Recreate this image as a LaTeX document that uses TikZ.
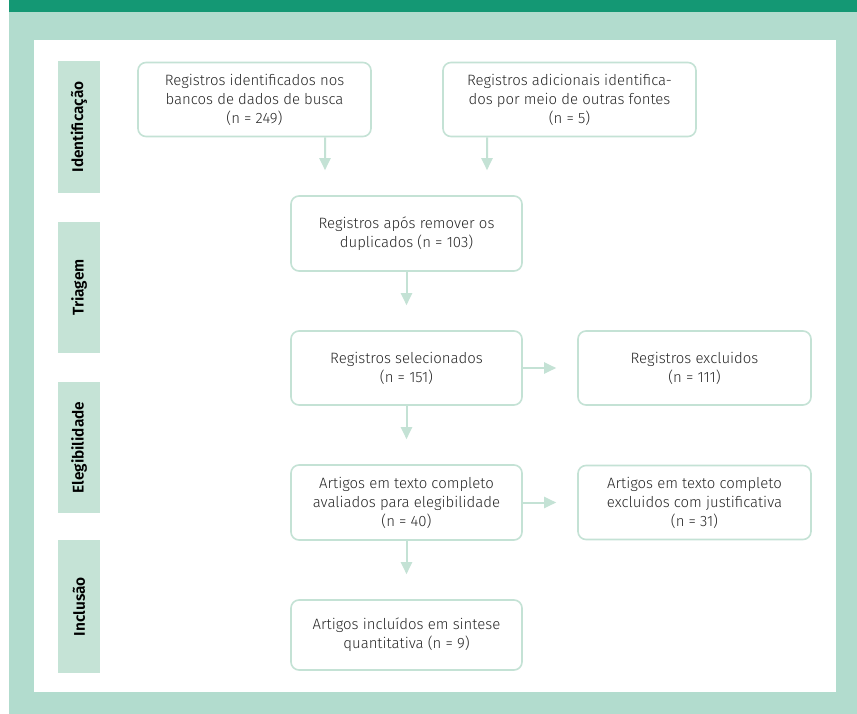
\documentclass[tikz,border=0pt]{standalone}
\usepackage{fontspec}
\setmainfont{Fira Sans}[UprightFont=* Light, BoldFont=* SemiBold]
\usetikzlibrary{arrows.meta}

\definecolor{bandgreen}{RGB}{20,152,116}
\definecolor{mintbg}{RGB}{178,220,206}
\definecolor{stagefill}{RGB}{197,227,214}
\definecolor{boxline}{RGB}{196,226,213}
\definecolor{txtgray}{RGB}{40,40,40}

\tikzset{
  flowbox/.style={draw=boxline, line width=1.6bp, rounded corners=8bp, fill=white,
    align=center, text=txtgray, inner sep=0pt,
    font=\fontsize{15}{19}\selectfont},
  stage/.style={fill=stagefill, minimum height=42bp, inner sep=0pt, rotate=90,
    font=\fontsize{15.5}{17}\selectfont\bfseries},
  flowarrow/.style={draw=boxline, line width=2bp,
    -{Triangle[width=11bp,length=12bp]}}
}

\begin{document}
\begin{tikzpicture}[x=1bp,y=-1bp]
				\fill[white] (0,0) rectangle (857,714);
				\fill[mintbg] (9,0) rectangle (857,714);
				\fill[bandgreen] (9,0) rectangle (857,12);
				\fill[white] (34,40) rectangle (836,692);
				
				\path (79,127) node[stage, minimum width=132bp] (sid) {Identificação};
				\path (79,287.5) node[stage, minimum width=131bp] (stri) {Triagem};
				\path (79,447.5) node[stage, minimum width=131bp] (sele) {Elegibilidade};
				\path (79,606.5) node[stage, minimum width=133bp] (sinc) {Inclusão};
				
				\path (254.5,99.5) node[flowbox, minimum width=233bp, minimum height=74bp] (bancos) {Registros identificados nos\\bancos de dados de busca\\(n = 249)};
				\path (569.5,99.5) node[flowbox, minimum width=253bp, minimum height=74bp] (outras) {Registros adicionais identifica-\\dos por meio de outras fontes\\(n = 5)};
				\path (406.5,233.5) node[flowbox, minimum width=231bp, minimum height=75bp] (dupl) {Registros após remover os\\duplicados (n = 103)};
				\path (406.5,368) node[flowbox, minimum width=231bp, minimum height=74bp] (selec) {Registros selecionados\\(n = 151)};
				\path (694.5,368) node[flowbox, minimum width=233bp, minimum height=74bp] (exclu) {Registros excluidos\\(n = 111)};
				\path (406.5,502.5) node[flowbox, minimum width=231bp, minimum height=75bp] (artav) {Artigos em texto completo\\avaliados para elegibilidade\\(n = 40)};
				\path (694.5,502.5) node[flowbox, minimum width=233bp, minimum height=74bp] (artex) {Artigos em texto completo\\excluidos com justificativa\\(n = 31)};
				\path (406.5,635) node[flowbox, minimum width=231bp, minimum height=70bp] (artinc) {Artigos incluídos em sintese\\quantitativa (n = 9)};
				
				\draw[flowarrow, shorten >=25bp] ([xshift=70.5bp]bancos.south) -- ([xshift=-81.5bp]dupl.north);
				\draw[flowarrow, shorten >=25bp] ([xshift=-82.5bp]outras.south) -- ([xshift=80.5bp]dupl.north);
				\draw[flowarrow, shorten >=25bp] (dupl) -- (selec);
				\draw[flowarrow, shorten >=21bp] (selec) -- (exclu);
				\draw[flowarrow, shorten >=25bp] (selec) -- (artav);
				\draw[flowarrow, shorten >=21bp] (artav) -- (artex);
				\draw[flowarrow, shorten >=25bp] (artav) -- (artinc);
				\end{tikzpicture}
\end{document}
